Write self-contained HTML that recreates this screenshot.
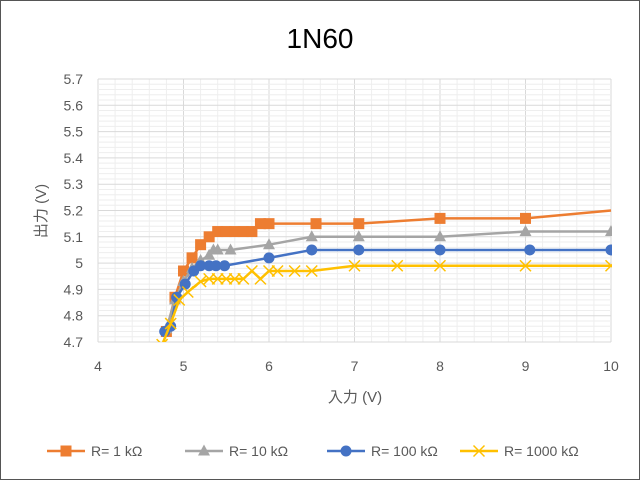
<!DOCTYPE html><html><head><meta charset="utf-8"><style>body{margin:0;background:#fff}svg{display:block}text{font-family:"Liberation Sans","Noto Sans CJK JP",sans-serif}</style></head><body>
<svg id="s" width="640" height="480" xmlns="http://www.w3.org/2000/svg">
<rect x="0.5" y="0.5" width="639" height="479" fill="#fff" stroke="#555"/>
<g id="g"></g>
<text x="320" y="48" font-size="28" text-anchor="middle" fill="#000">1N60</text>
<text transform="translate(46,211) rotate(-90)" font-size="15" text-anchor="middle" fill="#595959">出力 (V)</text>
<text x="355" y="402" font-size="15" text-anchor="middle" fill="#595959">入力 (V)</text>
</svg>
<script>
var g=document.getElementById('g'),h='';
function X(v){return 98+(v-4)*85.5}function Y(v){return 79+(5.7-v)*263}
for(var i=0;i<=30;i++){var x=X(4+i*0.2);h+='<line x1="'+x+'" y1="79" x2="'+x+'" y2="342" stroke="'+(i%5?'#eee':'#d9d9d9')+'"/>';}
for(var i=0;i<=50;i++){var y=Y(4.7+i*0.02);h+='<line x1="98" y1="'+y+'" x2="611" y2="'+y+'" stroke="'+(i%5?'#eee':'#d9d9d9')+'"/>';}
for(var i=0;i<=10;i++){var v=(4.7+i*0.1);h+='<text x="83" y="'+(Y(v)+5)+'" font-size="14" text-anchor="end" fill="#595959">'+(i==3?'5':v.toFixed(1))+'</text>';}
for(var i=4;i<=10;i++)h+='<text x="'+X(i)+'" y="371" font-size="14" text-anchor="middle" fill="#595959">'+i+'</text>';
var S=[
['#ed7d31','sq',[[4.8,4.74],[4.9,4.87],[5.0,4.97],[5.1,5.02],[5.2,5.07],[5.3,5.1],[5.4,5.12],[5.5,5.12],[5.6,5.12],[5.7,5.12],[5.8,5.12],[5.9,5.15],[6.0,5.15],[6.55,5.15],[7.05,5.15],[8,5.17],[9,5.17],[10,5.2,0]]],
['#a5a5a5','tr',[[4.8,4.75],[4.9,4.86],[5.0,4.93],[5.1,4.98],[5.2,5.01],[5.3,5.03],[5.35,5.05],[5.4,5.05],[5.55,5.05],[6.0,5.07],[6.5,5.1],[7.05,5.1],[8,5.1],[9,5.12],[10,5.12]]],
['#4472c4','ci',[[4.78,4.74],[4.85,4.76],[4.92,4.87],[5.02,4.92],[5.12,4.97],[5.2,4.99],[5.3,4.99],[5.38,4.99],[5.48,4.99],[6.0,5.02],[6.5,5.05],[7.05,5.05],[8,5.05],[9.05,5.05],[10,5.05]]],
['#ffc000','x',[[4.75,4.69],[4.85,4.77],[4.95,4.86],[5.05,4.89],[5.2,4.93],[5.3,4.94],[5.4,4.94],[5.5,4.94],[5.6,4.94],[5.7,4.94],[5.8,4.97],[5.9,4.94],[6.0,4.97],[6.1,4.97],[6.3,4.97],[6.5,4.97],[7.0,4.99],[7.5,4.99],[8,4.99],[9,4.99],[10,4.99]]]];
function mk(t,c,x,y){if(t=='sq')return '<rect x="'+(x-5.5)+'" y="'+(y-5.5)+'" width="11" height="11" fill="'+c+'"/>';
if(t=='tr')return '<polygon points="'+x+','+(y-6.5)+' '+(x+6)+','+(y+4.5)+' '+(x-6)+','+(y+4.5)+'" fill="'+c+'"/>';
if(t=='ci')return '<circle cx="'+x+'" cy="'+y+'" r="5.5" fill="'+c+'"/>';
return '<path d="M'+(x-5.5)+' '+(y-5.5)+'L'+(x+5.5)+' '+(y+5.5)+'M'+(x+5.5)+' '+(y-5.5)+'L'+(x-5.5)+' '+(y+5.5)+'" stroke="'+c+'" stroke-width="1.5"/>';}
h+='<clipPath id="c"><rect x="98" y="79" width="514" height="263"/></clipPath><g clip-path="url(#c)">';
S.forEach(function(s){var p=s[2].map(function(d){return X(d[0])+','+Y(d[1])}).join(' ');
h+='<polyline points="'+p+'" fill="none" stroke="'+s[0]+'" stroke-width="2.5"/>';
s[2].forEach(function(d){if(d[2]!==0)h+=mk(s[1],s[0],X(d[0]),Y(d[1]))});});
h+='</g>';
var L=[[47,'R= 1 kΩ'],[185,'R= 10 kΩ'],[327,'R= 100 kΩ'],[460,'R= 1000 kΩ']];
L.forEach(function(l,i){var c=S[i][0];h+='<line x1="'+l[0]+'" y1="451" x2="'+(l[0]+38)+'" y2="451" stroke="'+c+'" stroke-width="2.5"/>'+mk(S[i][1],c,l[0]+19,451)+'<text x="'+(l[0]+44)+'" y="456" font-size="14" fill="#595959">'+l[1]+'</text>';});
g.innerHTML=h;
</script></body></html>
